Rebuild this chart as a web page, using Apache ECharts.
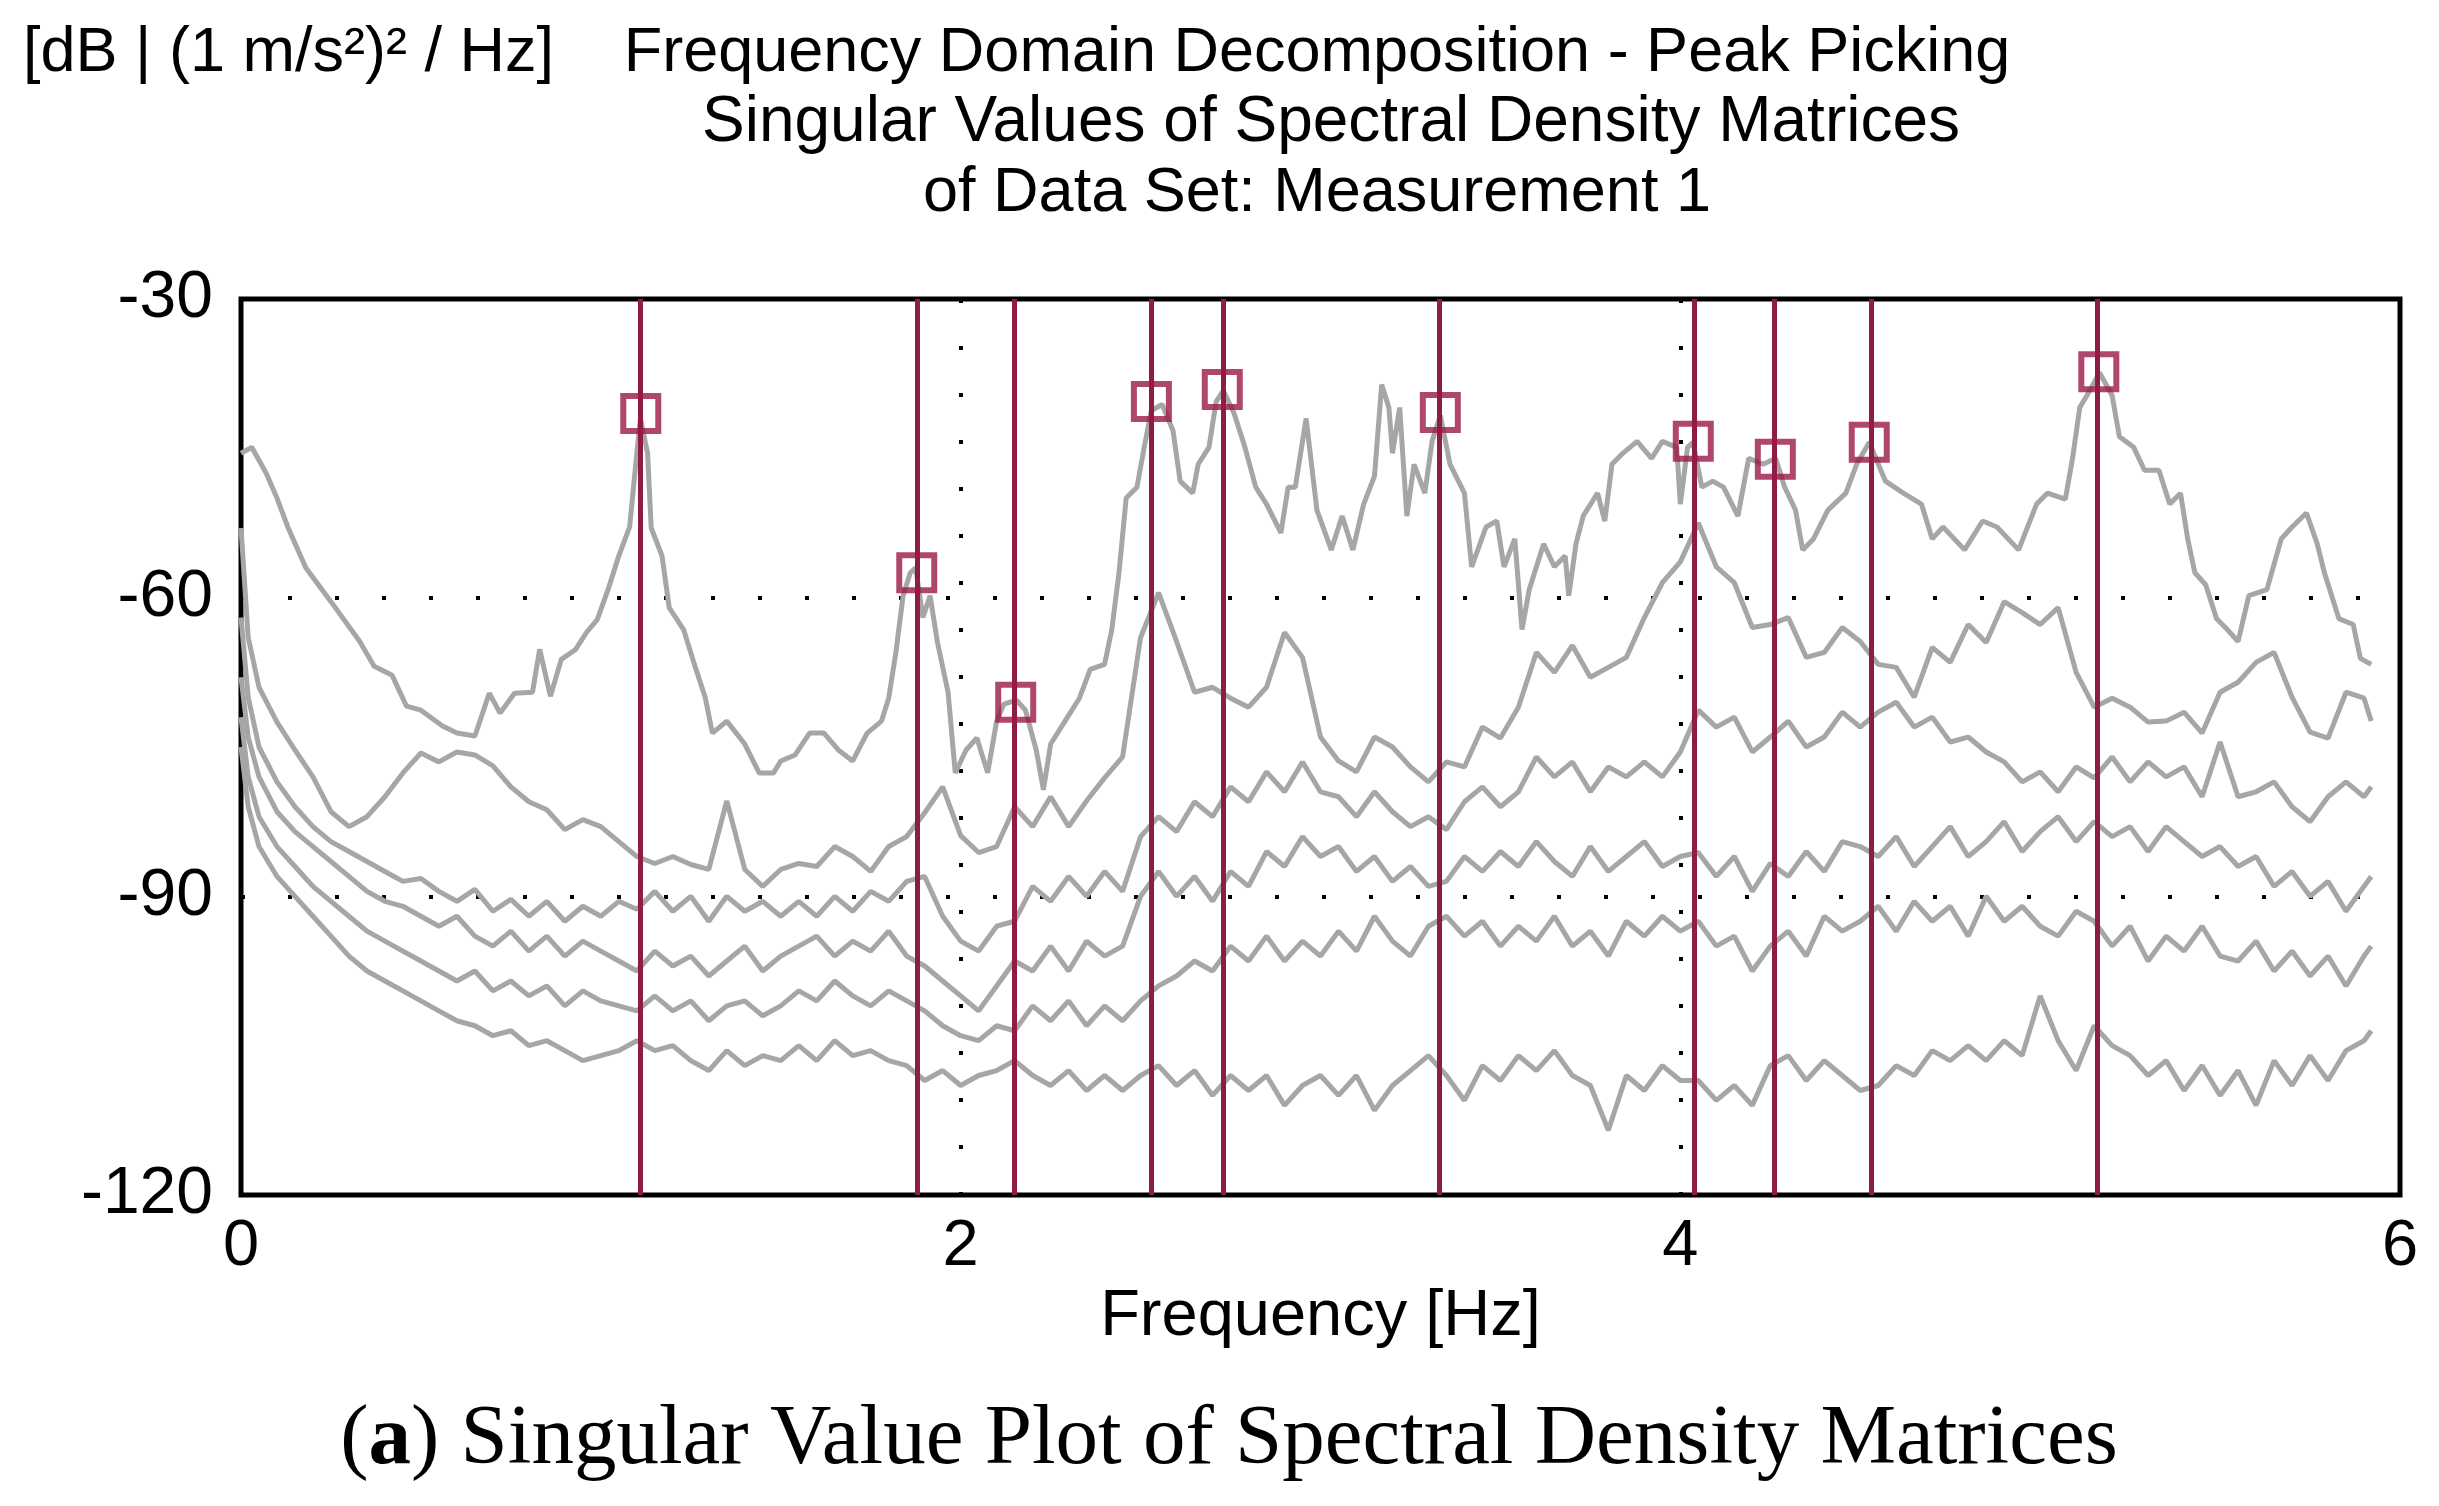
<!DOCTYPE html>
<html>
<head>
<meta charset="utf-8">
<title>FDD Peak Picking</title>
<script src="https://cdn.jsdelivr.net/npm/echarts@6/dist/echarts.min.js"></script>
<style>
html, body { margin: 0; padding: 0; background: #fff; }
#chart { width: 2439px; height: 1506px; }
</style>
</head>
<body>
<div id="chart"></div>
<script>
// 坐标轴刻度
const xTicks = [0, 2, 4, 6]
const yTicks = [-120, -90, -60, -30]

// 拾取的峰值（频率 Hz，幅值 dB）
const peakHz = [1.111, 1.878, 2.153, 2.530, 2.727, 3.333, 4.036, 4.264, 4.525, 5.163]
const peakDb = [-41.5, -57.5, -70.5, -40.3, -39.1, -41.4, -44.3, -46.1, -44.4, -37.3]

// 第一奇异值曲线（点对 [Hz, dB]）
const sv1 = [
  [0, -45.5], [0.03, -44.9], [0.07, -47.5], [0.1, -50], [0.13, -52.9], [0.18, -57], [0.25, -60.4],
  [0.33, -64.4], [0.37, -66.9], [0.42, -67.8], [0.46, -70.9], [0.5, -71.3], [0.56, -72.9], [0.6, -73.6],
  [0.65, -73.9], [0.69, -69.6], [0.72, -71.6], [0.76, -69.6], [0.81, -69.5], [0.83, -65.2], [0.86, -69.9],
  [0.89, -66.2], [0.93, -65.2], [0.96, -63.5], [0.99, -62.2], [1.02, -59.2], [1.05, -55.8], [1.08, -52.9],
  [1.1, -45.5], [1.11, -42], [1.13, -45.5], [1.14, -53], [1.17, -55.8], [1.19, -61], [1.23, -63.2],
  [1.26, -66.7], [1.29, -70], [1.31, -73.6], [1.35, -72.4], [1.4, -74.7], [1.44, -77.6], [1.48, -77.6],
  [1.5, -76.4], [1.54, -75.8], [1.58, -73.6], [1.62, -73.6], [1.66, -75.3], [1.7, -76.4], [1.74, -73.6],
  [1.78, -72.4], [1.8, -70.1], [1.82, -65.5], [1.84, -59.8], [1.86, -57.5], [1.875, -57], [1.895, -62],
  [1.915, -59.8], [1.935, -64.4], [1.965, -69.5], [1.985, -77.6], [2.015, -75.3], [2.045, -74.1],
  [2.075, -77.6], [2.1, -72.4], [2.12, -70.7], [2.155, -70.3], [2.18, -71.3], [2.21, -75.3], [2.23, -79.3],
  [2.25, -74.7], [2.29, -72.4], [2.33, -70.1], [2.36, -67.2], [2.4, -66.7], [2.42, -63.2], [2.44, -57.5],
  [2.46, -50], [2.49, -48.9], [2.51, -44.9], [2.53, -41.2], [2.56, -40.6], [2.59, -43.2], [2.61, -48.3],
  [2.645, -49.5], [2.66, -46.6], [2.69, -44.9], [2.71, -40.3], [2.73, -39.2], [2.76, -41.5], [2.79, -44.9],
  [2.82, -48.9], [2.85, -50.6], [2.89, -53.5], [2.91, -48.9], [2.93, -48.9], [2.96, -42], [2.99, -51.2],
  [3.03, -55.2], [3.06, -51.8], [3.09, -55.2], [3.12, -50.6], [3.15, -47.8], [3.17, -38.6], [3.19, -40.9],
  [3.2, -45.5], [3.22, -40.9], [3.24, -51.8], [3.26, -46.6], [3.29, -49.5], [3.31, -44.3], [3.333, -41.7],
  [3.36, -46.6], [3.4, -49.5], [3.42, -56.9], [3.46, -52.9], [3.49, -52.3], [3.51, -56.9], [3.54, -54.1],
  [3.56, -63.2], [3.58, -59.2], [3.62, -54.6], [3.65, -56.9], [3.68, -55.8], [3.69, -59.8], [3.71, -54.6],
  [3.73, -51.8], [3.77, -49.5], [3.79, -52.3], [3.81, -46.6], [3.84, -45.5], [3.88, -44.3], [3.92, -46],
  [3.95, -44.3], [3.99, -44.9], [4.0, -50.6], [4.02, -44.9], [4.035, -44.4], [4.06, -48.9], [4.09, -48.3],
  [4.12, -48.9], [4.16, -51.8], [4.19, -46], [4.23, -46.6], [4.265, -46], [4.29, -48.9], [4.32, -51.2],
  [4.34, -55.2], [4.37, -54.1], [4.41, -51.2], [4.46, -49.5], [4.49, -46.6], [4.525, -44.4], [4.57, -48.3],
  [4.62, -49.5], [4.67, -50.6], [4.7, -54.1], [4.73, -52.9], [4.79, -55.2], [4.84, -52.3], [4.88, -52.9],
  [4.94, -55.2], [4.99, -50.6], [5.02, -49.5], [5.07, -50.1], [5.09, -46], [5.11, -40.9], [5.13, -39.7],
  [5.165, -37.4], [5.2, -39.7], [5.22, -43.8], [5.26, -44.9], [5.29, -47.2], [5.33, -47.2], [5.36, -50.6],
  [5.39, -49.5], [5.41, -54.1], [5.43, -57.5], [5.46, -58.7], [5.49, -62.1], [5.52, -63.2], [5.55, -64.4],
  [5.58, -59.8], [5.63, -59.2], [5.67, -54.1], [5.7, -52.9], [5.74, -51.5], [5.77, -54.6], [5.79, -57.5],
  [5.83, -62.1], [5.87, -62.7], [5.89, -66.1], [5.92, -66.7]
]

// 其余奇异值共用的频率网格（Hz）
const gridHz = [
  0, 0.02,
  0.05, 0.1, 0.15, 0.2, 0.25, 0.3, 0.35, 0.4, 0.45, 0.5,
  0.55, 0.6, 0.65, 0.7, 0.75, 0.8, 0.85, 0.9, 0.95, 1.0,
  1.05, 1.1, 1.15, 1.2, 1.25, 1.3, 1.35, 1.4, 1.45, 1.5,
  1.55, 1.6, 1.65, 1.7, 1.75, 1.8, 1.85, 1.9, 1.95, 2.0,
  2.05, 2.1, 2.15, 2.2, 2.25, 2.3, 2.35, 2.4, 2.45, 2.5,
  2.55, 2.6, 2.65, 2.7, 2.75, 2.8, 2.85, 2.9, 2.95, 3.0,
  3.05, 3.1, 3.15, 3.2, 3.25, 3.3, 3.35, 3.4, 3.45, 3.5,
  3.55, 3.6, 3.65, 3.7, 3.75, 3.8, 3.85, 3.9, 3.95, 4.0,
  4.05, 4.1, 4.15, 4.2, 4.25, 4.3, 4.35, 4.4, 4.45, 4.5,
  4.55, 4.6, 4.65, 4.7, 4.75, 4.8, 4.85, 4.9, 4.95, 5.0,
  5.05, 5.1, 5.15, 5.2, 5.25, 5.3, 5.35, 5.4, 5.45, 5.5,
  5.55, 5.6, 5.65, 5.7, 5.75, 5.8, 5.85, 5.9, 5.92
]

const sv2Db = [
  -53, -64,
  -69, -72.5, -75.3, -78, -81.5, -83, -82, -80, -77.6, -75.6,
  -76.5, -75.5, -75.8, -76.9, -79, -80.5, -81.3, -83.3, -82.3, -83,
  -84.5, -86, -86.7, -86, -86.8, -87.3, -80.4, -87.3, -89, -87.3,
  -86.7, -87, -85, -86, -87.5, -85, -84, -81.6, -79, -83.9,
  -85.6, -85, -81, -83, -80, -83, -80.4, -78.1, -76, -64,
  -59.5, -64.4, -69.5, -69, -70.1, -71, -69, -63.5, -66, -74,
  -76.4, -77.5, -74, -75, -77, -78.5, -76.5, -77, -73, -74.1,
  -71, -65.5, -67.5, -64.8, -68, -67, -66, -62, -58.5, -56.4,
  -52.5, -56.9, -58.5, -63, -62.7, -62, -66, -65.5, -63, -64.4,
  -66.7, -67, -70, -65, -66.5, -62.7, -64.5, -60.4, -61.5, -62.7,
  -61, -67.5, -71, -70.1, -71, -72.5, -72.4, -71.5, -73.6, -69.5,
  -68.5, -66.5, -65.5, -70, -73.5, -74.1, -69.5, -70.1, -72.4
]

const sv3Db = [
  -62, -70,
  -75, -78.5, -81, -83, -84.5, -85.5, -86.5, -87.5, -88.5, -88.2,
  -89.5, -90.5, -89.3, -91.5, -90.3, -92, -90.5, -92.5, -91, -92,
  -90.5, -91.3, -89.5, -91.5, -90, -92.5, -90, -91.5, -90.5, -92,
  -90.5, -92, -90, -91.5, -89.5, -90.5, -88.5, -88, -92, -94.5,
  -95.5, -93, -92.5, -89, -90.5, -88, -90, -87.5, -89.5, -84,
  -82, -83.5, -80.5, -82, -79, -80.5, -77.5, -79.5, -76.5, -79.5,
  -80, -82, -79.5, -81.5, -83, -82, -83.3, -80.5, -79, -81,
  -79.5, -76, -78, -76.5, -79.5, -77, -78, -76.5, -78, -75.5,
  -71.3, -73, -72, -75.5, -74, -72.4, -75, -74, -71.5, -73,
  -71.5, -70.5, -73, -72, -74.5, -74, -75.5, -76.5, -78.5, -77.5,
  -79.5, -77, -78.1, -76, -78.5, -76.5, -78, -77, -80, -74.5,
  -80, -79.5, -78.5, -81, -82.5, -80, -78.5, -80, -79
]

const sv4Db = [
  -68, -74,
  -78, -81.5, -83.5, -85, -86.5, -88, -89.5, -90.5, -91, -92,
  -93, -92, -94, -95, -93.5, -95.5, -94, -96, -94.5, -95.5,
  -96.5, -97.5, -95.5, -97, -96, -98, -96.5, -95, -97.5, -96,
  -95, -94, -96, -94.5, -95.5, -93.5, -96, -97, -98.5, -100,
  -101.5, -99, -96.5, -97.5, -95, -97.5, -94.5, -96, -95, -90,
  -87.5, -90, -88, -90.5, -87.5, -89, -85.5, -87, -84, -86,
  -85, -87.5, -86, -88.5, -87, -89, -88.5, -86, -87.5, -85.5,
  -87, -84.5, -86.5, -88, -85, -87.5, -86, -84.5, -87, -86,
  -85.6, -88, -86, -89.5, -86.7, -88, -85.5, -87.5, -84.5, -85,
  -86, -84, -87, -85, -83, -86, -84.5, -82.5, -85.5, -83.5,
  -82, -84.5, -82.5, -84, -83, -85.5, -83, -84.5, -86, -85,
  -87, -86, -89, -87.5, -90, -88.5, -91.5, -89, -88
]

const sv5Db = [
  -72, -78,
  -82, -85, -87, -89, -90.5, -92, -93.5, -94.5, -95.5, -96.5,
  -97.5, -98.5, -97.5, -99.5, -98.5, -100, -99, -101, -99.5, -100.5,
  -101, -101.5, -100, -101.5, -100.5, -102.5, -101, -100.5, -102, -101,
  -99.5, -100.5, -98.5, -100, -101, -99.5, -100.5, -101.5, -103, -104,
  -104.5, -103, -103.5, -101, -102.5, -100.5, -103, -101, -102.5, -100.5,
  -99, -98, -96.5, -97.5, -95, -96.5, -94, -96.5, -94.5, -96,
  -93.5, -95.5, -92, -94.5, -96, -93, -92, -94, -92.5, -95,
  -93, -94.5, -92, -95, -93.5, -96, -92.5, -94, -92, -93.5,
  -92.5, -95, -94, -97.5, -95, -93.5, -96, -92, -93.5, -92.5,
  -91, -93.5, -90.5, -92.5, -91, -94, -90, -92.5, -91, -93,
  -94, -91.5, -92.5, -95, -93, -96.5, -94, -95.5, -93, -96,
  -96.5, -94.5, -97.5, -95.5, -98, -96, -99, -96, -95
]

const sv6Db = [
  -75, -81,
  -85, -88, -90, -92, -94, -96, -97.5, -98.5, -99.5, -100.5,
  -101.5, -102.5, -103, -104, -103.5, -105, -104.5, -105.5, -106.5, -106,
  -105.5, -104.5, -105.5, -105, -106.5, -107.5, -105.5, -107, -106, -106.5,
  -105, -106.5, -104.5, -106, -105.5, -106.5, -107, -108.5, -107.5, -109,
  -108, -107.5, -106.5, -108, -109, -107.5, -109.5, -108, -109.5, -108,
  -107, -109, -107.5, -110, -108, -109.5, -108, -111, -109, -108,
  -110, -108, -111.5, -109, -107.5, -106, -108, -110.5, -107, -108.5,
  -106, -107.5, -105.5, -108, -109, -113.5, -108, -109.5, -107, -108.5,
  -108.5, -110.5, -109, -111, -107, -106, -108.5, -106.5, -108, -109.5,
  -109, -107, -108, -105.5, -106.5, -105, -106.5, -104.5, -106, -100,
  -104.5, -107.5, -103, -105, -106, -108, -106.5, -109.5, -107, -110,
  -107.5, -111, -106.5, -109, -106, -108.5, -105.5, -104.5, -103.5
]

const SANS = '"Liberation Sans", Arial, sans-serif'
const SERIF = '"Liberation Serif", "Times New Roman", serif'
const GRAY = '#a6a6a6'
const PEAK_LINE = '#8e1c44'
const PEAK_BOX = '#9b1848'

function pairs(db) { return gridHz.map((f, i) => [f, db[i]]) }

function svLine(data) {
  return {
    type: 'line', data, showSymbol: false, silent: true, z: 2,
    lineStyle: { color: GRAY, width: 5 }
  }
}

const chart = echarts.init(document.getElementById('chart'))

chart.setOption({
  animation: false,
  backgroundColor: '#fff',
  grid: {
    left: 241, right: 39, top: 299, bottom: 311,
    show: true, borderColor: '#000', borderWidth: 5
  },
  xAxis: {
    type: 'value', min: xTicks[0], max: xTicks[xTicks.length - 1], interval: 2,
    axisLine: { show: false }, axisTick: { show: false },
    axisLabel: { color: '#000', fontSize: 65, fontFamily: SANS, margin: 20 },
    splitLine: { show: true, showMinLine: false, showMaxLine: false,
      lineStyle: { color: '#000', width: 4, type: [4, 43] } },
    name: 'Frequency [Hz]', nameLocation: 'middle', nameGap: 90,
    nameTextStyle: { color: '#000', fontSize: 65, fontFamily: SANS }
  },
  yAxis: {
    type: 'value', min: yTicks[0], max: yTicks[yTicks.length - 1], interval: 30,
    axisLine: { show: false }, axisTick: { show: false },
    axisLabel: { color: '#000', fontSize: 66, fontFamily: SANS, margin: 28 },
    splitLine: { show: true, showMinLine: false, showMaxLine: false,
      lineStyle: { color: '#000', width: 4, type: [4, 43] } }
  },
  graphic: [
    { type: 'text', x: 23, y: 54, style: { text: '[dB | (1 m/s²)² / Hz]', font: '63px ' + SANS, fill: '#000', textAlign: 'left', textVerticalAlign: 'middle' } },
    { type: 'text', x: 1317, y: 54, style: { text: 'Frequency Domain Decomposition - Peak Picking', font: '63px ' + SANS, fill: '#000', textAlign: 'center', textVerticalAlign: 'middle' } },
    { type: 'text', x: 1331, y: 123, style: { text: 'Singular Values of Spectral Density Matrices', font: '64px ' + SANS, fill: '#000', textAlign: 'center', textVerticalAlign: 'middle' } },
    { type: 'text', x: 1317, y: 194, style: { text: 'of Data Set: Measurement 1', font: '63px ' + SANS, fill: '#000', textAlign: 'center', textVerticalAlign: 'middle' } },
    { type: 'text', x: 1229, y: 1441, style: {
        text: '({b|a}) Singular Value Plot of Spectral Density Matrices',
        font: '85px ' + SERIF, fill: '#000', textAlign: 'center', textVerticalAlign: 'middle',
        rich: { b: { fontWeight: 'bold', fontSize: 85, fontFamily: SERIF, fill: '#000' } }
      } }
  ],
  series: [
    svLine(sv1),
    svLine(pairs(sv2Db)),
    svLine(pairs(sv3Db)),
    svLine(pairs(sv4Db)),
    svLine(pairs(sv5Db)),
    svLine(pairs(sv6Db)),
    {
      // 峰值标记及竖线
      type: 'scatter', z: 5, silent: true,
      symbol: 'rect', symbolSize: 35,
      itemStyle: { color: 'rgba(0,0,0,0)', borderColor: PEAK_BOX, borderWidth: 6 },
      data: peakHz.map((f, i) => [f, peakDb[i]]),
      markLine: {
        silent: true, symbol: ['none', 'none'], label: { show: false },
        lineStyle: { color: PEAK_LINE, width: 5, type: 'solid' },
        data: peakHz.map(f => ({ xAxis: f }))
      }
    }
  ]
})
</script>
</body>
</html>
